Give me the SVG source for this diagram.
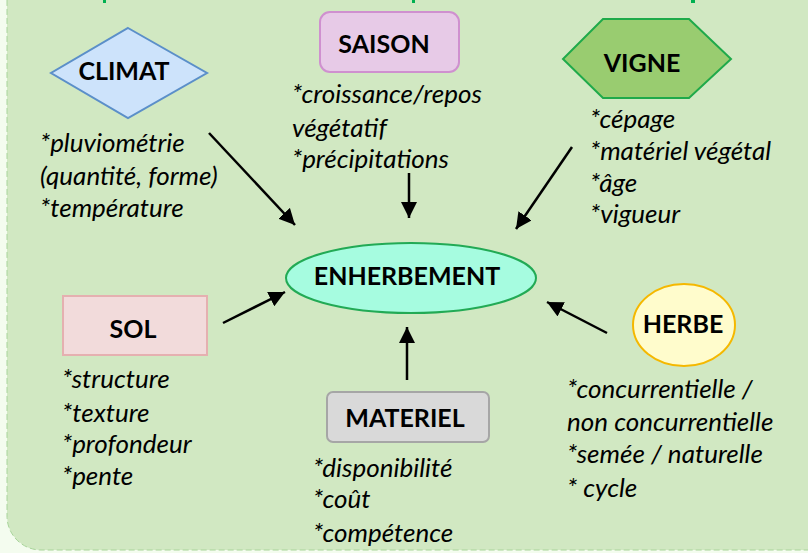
<svg xmlns="http://www.w3.org/2000/svg" width="808" height="553" viewBox="0 0 808 553">
  <defs>
    <marker id="arr" markerUnits="userSpaceOnUse" markerWidth="18" markerHeight="16" refX="16" refY="8" orient="auto">
      <path d="M0,0 L16,8 L0,16 Z" fill="#000"/>
    </marker>
    <style>
      .lbl { font-family: Lato, "Liberation Sans", sans-serif; font-weight: bold; font-size: 25px; fill: #000; }
      .txt { font-family: Lato, "Liberation Sans", sans-serif; font-style: italic; font-size: 26px; fill: #000; }
      .con { stroke: #000; stroke-width: 2.5; fill: none; marker-end: url(#arr); }
      .frag { fill: #00b050; }
    </style>
  </defs>

  <rect x="0" y="0" width="808" height="553" fill="#f4fcef"/>
  <rect x="7" y="-40" width="840" height="590" rx="34" fill="#d1e8c2" stroke="#a8d49a" stroke-width="1" stroke-dasharray="6 3"/>

  <rect class="frag" x="103" y="0" width="3" height="3"/>
  <rect class="frag" x="412" y="0" width="3" height="3"/>
  <rect class="frag" x="691" y="0" width="4" height="3"/>

  <g id="connectors">
    <line class="con" x1="209" y1="133" x2="295" y2="225"/>
    <line class="con" x1="409" y1="173" x2="409" y2="218"/>
    <line class="con" x1="572" y1="147" x2="516" y2="229"/>
    <line class="con" x1="223" y1="323" x2="285" y2="292"/>
    <line class="con" x1="407" y1="380" x2="407" y2="327"/>
    <line class="con" x1="607" y1="333" x2="547" y2="302"/>
  </g>

  <g id="climat">
    <polygon points="128,28 207,73 128,118 51,73" fill="#cde3fb" stroke="#5b8fc9" stroke-width="2"/>
    <text class="lbl" x="124" y="80" text-anchor="middle">CLIMAT</text>
    <text class="txt" x="40" y="152">*pluviométrie</text>
    <text class="txt" x="40" y="185">(quantité, forme)</text>
    <text class="txt" x="40" y="217">*température</text>
  </g>

  <g id="saison">
    <rect x="320" y="12" width="139" height="60" rx="10" fill="#e7cae7" stroke="#cf90cf" stroke-width="2"/>
    <text class="lbl" x="384" y="53" text-anchor="middle">SAISON</text>
    <text class="txt" x="292" y="103">*croissance/repos</text>
    <text class="txt" x="292" y="137">végétatif</text>
    <text class="txt" x="292" y="168">*précipitations</text>
  </g>

  <g id="vigne">
    <polygon points="603,19 689,19 731,59 689,98 603,98 563,59" fill="#99cc70" stroke="#1faa4a" stroke-width="2"/>
    <text class="lbl" x="642" y="72" text-anchor="middle">VIGNE</text>
    <text class="txt" x="590" y="128">*cépage</text>
    <text class="txt" x="590" y="160">*matériel végétal</text>
    <text class="txt" x="590" y="192">*âge</text>
    <text class="txt" x="590" y="223">*vigueur</text>
  </g>

  <g id="enherbement">
    <ellipse cx="411" cy="278" rx="125" ry="35" fill="#a6fce0" stroke="#22aa55" stroke-width="2"/>
    <text class="lbl" x="407" y="285" text-anchor="middle">ENHERBEMENT</text>
  </g>

  <g id="sol">
    <rect x="63" y="296" width="144" height="59" fill="#f2dbdb" stroke="#e5b0b0" stroke-width="2"/>
    <text class="lbl" x="133" y="338" text-anchor="middle">SOL</text>
    <text class="txt" x="62" y="388">*structure</text>
    <text class="txt" x="62" y="422">*texture</text>
    <text class="txt" x="62" y="453">*profondeur</text>
    <text class="txt" x="62" y="485">*pente</text>
  </g>

  <g id="materiel">
    <rect x="327" y="392" width="162" height="50" rx="6" fill="#d9d9d9" stroke="#a6a6a6" stroke-width="2"/>
    <text class="lbl" x="405" y="427" text-anchor="middle">MATERIEL</text>
    <text class="txt" x="313" y="477">*disponibilité</text>
    <text class="txt" x="313" y="508">*coût</text>
    <text class="txt" x="313" y="542">*compétence</text>
  </g>

  <g id="herbe">
    <ellipse cx="684" cy="325" rx="51" ry="41" fill="#fffccc" stroke="#f5b800" stroke-width="2"/>
    <text class="lbl" x="683" y="333" text-anchor="middle">HERBE</text>
    <text class="txt" x="567" y="398">*concurrentielle /</text>
    <text class="txt" x="567" y="431">non concurrentielle</text>
    <text class="txt" x="567" y="463">*semée / naturelle</text>
    <text class="txt" x="567" y="497">* cycle</text>
  </g>
</svg>
